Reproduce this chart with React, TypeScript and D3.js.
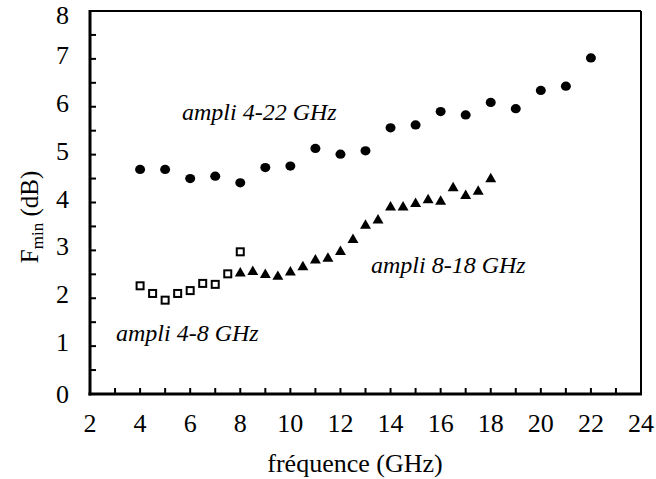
import React from 'react';
import * as d3 from 'd3';

// ampli 4-22 GHz (circles)
const freqWide = [4, 5, 6, 7, 8, 9, 10, 11, 12, 13, 14, 15, 16, 17, 18, 19, 20, 21, 22];
const fminWide = [4.69, 4.69, 4.5, 4.55, 4.41, 4.73, 4.76, 5.13, 5.01, 5.08, 5.56, 5.62, 5.9, 5.83, 6.09, 5.96, 6.34, 6.43, 7.02];

// ampli 4-8 GHz (open squares)
const freqLow = [4, 4.5, 5, 5.5, 6, 6.5, 7, 7.5, 8];
const fminLow = [2.26, 2.1, 1.96, 2.1, 2.16, 2.31, 2.29, 2.51, 2.97];

// ampli 8-18 GHz (triangles)
const freqMid = [8, 8.5, 9, 9.5, 10, 10.5, 11, 11.5, 12, 12.5, 13, 13.5, 14, 14.5, 15, 15.5, 16, 16.5, 17, 17.5, 18];
const fminMid = [2.52, 2.55, 2.49, 2.45, 2.54, 2.65, 2.79, 2.83, 2.97, 3.22, 3.52, 3.63, 3.9, 3.9, 3.97, 4.05, 4.02, 4.3, 4.14, 4.23, 4.49];

const xTickLabels = [2, 4, 6, 8, 10, 12, 14, 16, 18, 20, 22, 24];
const yTickLabels = [0, 1, 2, 3, 4, 5, 6, 7, 8];

const W = 656;
const H = 479;
const m = { left: 90, right: 641, top: 11, bottom: 394 };
const serif = { fontFamily: "'Liberation Serif'" };

export default function App() {
  const x = d3.scaleLinear().domain([2, 24]).range([m.left, m.right]);
  const y = d3.scaleLinear().domain([0, 8]).range([m.bottom, m.top]);

  const xMinor = d3.range(3, 24, 1);
  const yMinor = d3.range(0.5, 8, 0.5);

  const tri = d3.symbol().type(d3.symbolTriangle).size(52)();

  // labels sit a little above their ticks, the top one is pushed inside the page
  const yLabelBase = (t: number) => (t === 0 ? y(t) + 9 : Math.max(y(t) + 5, 24));

  return (
    <svg width={W} height={H} style={{ position: 'absolute', left: 0, top: 0, background: '#fff' }}>
      {/* frame */}
      <line x1={m.left} x2={m.right} y1={m.top} y2={m.top} stroke="#000" strokeWidth={2} />
      <line x1={m.right} x2={m.right} y1={m.top} y2={m.bottom} stroke="#000" strokeWidth={2} />
      <line x1={m.left} x2={m.left} y1={m.top - 1} y2={m.bottom + 1.5} stroke="#000" strokeWidth={3} />
      <line x1={m.left - 1.5} x2={m.right + 1} y1={m.bottom} y2={m.bottom} stroke="#000" strokeWidth={3} />

      {/* inside ticks */}
      {xMinor.map(t => (
        <line key={'xt' + t} x1={x(t)} x2={x(t)} y1={m.bottom} y2={m.bottom - 6} stroke="#000" strokeWidth={2} />
      ))}
      {yMinor.map(t => (
        <line key={'yt' + t} x1={m.left} x2={m.left + 6} y1={y(t)} y2={y(t)} stroke="#000" strokeWidth={2} />
      ))}

      {/* tick labels */}
      {xTickLabels.map(t => (
        <text key={'xl' + t} x={x(t)} y={432} fontSize={26} textAnchor="middle" style={serif}>{t}</text>
      ))}
      {yTickLabels.map(t => (
        <text key={'yl' + t} x={69} y={yLabelBase(t)} fontSize={26} textAnchor="end" style={serif}>{t}</text>
      ))}

      {/* axis titles */}
      <text x={355} y={472} fontSize={26} textAnchor="middle" style={serif}>fréquence (GHz)</text>
      <text transform="translate(38,217) rotate(-90)" fontSize={25} textAnchor="middle" style={serif}>
        F<tspan fontSize={17} dy={5}>min</tspan><tspan dy={-5}> (dB)</tspan>
      </text>

      {/* series */}
      {freqWide.map((f, i) => (
        <ellipse key={'c' + i} cx={x(f)} cy={y(fminWide[i])} rx={5} ry={4.6} fill="#000" />
      ))}
      {freqLow.map((f, i) => (
        <rect key={'s' + i} x={x(f) - 3.5} y={y(fminLow[i]) - 3.5} width={7} height={7}
          fill="#fff" stroke="#000" strokeWidth={2} />
      ))}
      {freqMid.map((f, i) => (
        <path key={'t' + i} d={tri ?? ''} transform={`translate(${x(f)},${y(fminMid[i])})`} fill="#000" />
      ))}

      {/* annotations */}
      <text x={182} y={120} fontSize={24} fontStyle="italic" style={serif}>ampli 4-22 GHz</text>
      <text x={371} y={273} fontSize={24} fontStyle="italic" style={serif}>ampli 8-18 GHz</text>
      <text x={116} y={341} fontSize={24} fontStyle="italic" style={serif}>ampli 4-8 GHz</text>
    </svg>
  );
}
